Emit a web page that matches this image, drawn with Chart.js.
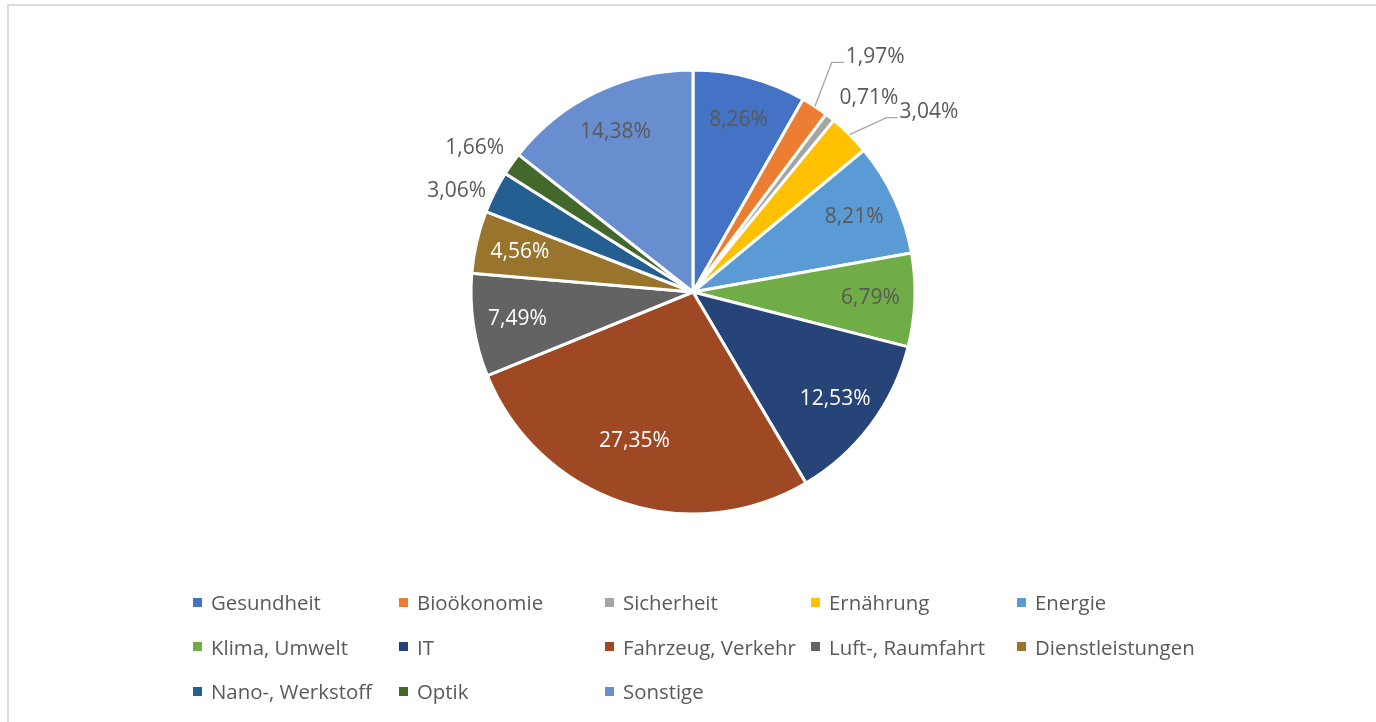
<!DOCTYPE html>
<html>
<head>
<meta charset="utf-8">
<script src="https://cdn.jsdelivr.net/npm/chart.js@4"></script>
<style>
    html, body { margin: 0; padding: 0; background: #fff; overflow: hidden; }
    #contenedor { position: relative; width: 1376px; height: 722px; }
    #marco { position: absolute; left: 7px; top: 4px; width: 1400px; height: 800px; border: 2px solid #dcdcdc; box-sizing: border-box; }
    #graficaTarta { position: absolute; left: 0; top: 0; }
    #leyenda { position: absolute; left: 193px; top: 580px; display: grid; grid-template-columns: repeat(5, 206px); grid-auto-rows: 44.5px; font-family: "Open Sans", sans-serif; font-size: 20.4px; color: #595959; }
    #leyenda .item { display: flex; align-items: center; white-space: nowrap; }
    #leyenda .marca { width: 9px; height: 9px; margin-right: 9px; flex: none; }
</style>
</head>
<body>
<div id="contenedor">
    <div id="marco"></div>
    <canvas id="graficaTarta" width="1376" height="722"></canvas>
    <div id="leyenda"></div>
</div>
<script>
const categorias = ['Gesundheit', 'Bioökonomie', 'Sicherheit', 'Ernährung', 'Energie',
    'Klima, Umwelt', 'IT', 'Fahrzeug, Verkehr', 'Luft-, Raumfahrt', 'Dienstleistungen',
    'Nano-, Werkstoff', 'Optik', 'Sonstige'];
const valores = [8.26, 1.97, 0.71, 3.04, 8.21, 6.79, 12.53, 27.35, 7.49, 4.56, 3.06, 1.66, 14.38];
const colores = ['#4472C4', '#ED7D31', '#A5A5A5', '#FFC000', '#5B9BD5', '#70AD47', '#264478',
    '#9E4824', '#636363', '#98742D', '#255E91', '#43682B', '#698ED0'];

// etiquetas que van fuera de la tarta (desplazamiento desde el borde del sector)
const fuera = {
    1: { dx: 31, dy: -49, codo: [17, -44] },
    2: { dx: 39, dy: -19 },
    3: { dx: 50, dy: -23, codo: [37, -17] },
    10: { dx: -38, dy: -1 },
    11: { dx: -37, dy: -16 }
};
const blancas = [6, 7, 8, 9];

function formatear(v) {
    return v.toFixed(2).replace('.', ',') + '%';
}

const pluginEtiquetas = {
    id: 'etiquetas',
    afterDatasetsDraw(chart) {
        const ctx = chart.ctx;
        const meta = chart.getDatasetMeta(0);
        ctx.save();
        ctx.font = '21px "Open Sans"';
        ctx.textBaseline = 'middle';
        meta.data.forEach((arc, i) => {
            const p = arc.getProps(['x', 'y', 'startAngle', 'endAngle', 'outerRadius'], true);
            let medio = (p.startAngle + p.endAngle) / 2;
            if (i === 7) medio += 0.05;
            const cos = Math.cos(medio), sin = Math.sin(medio);
            const texto = formatear(valores[i]);
            const f = fuera[i];
            if (!f) {
                const r = p.outerRadius * (i === 7 ? 0.72 : 0.8);
                ctx.fillStyle = blancas.includes(i) ? '#ffffff' : '#595959';
                ctx.textAlign = 'center';
                ctx.fillText(texto, p.x + cos * r, p.y + sin * r);
                return;
            }
            const bx = p.x + cos * p.outerRadius;
            const by = p.y + sin * p.outerRadius;
            ctx.fillStyle = '#595959';
            if (f.codo) {
                ctx.strokeStyle = '#a6a6a6';
                ctx.lineWidth = 1.3;
                ctx.beginPath();
                ctx.moveTo(bx, by);
                ctx.lineTo(bx + f.codo[0], by + f.codo[1]);
                ctx.lineTo(bx + f.dx - 2, by + f.codo[1]);
                ctx.stroke();
                ctx.textAlign = 'left';
            } else {
                ctx.textAlign = 'center';
            }
            ctx.fillText(texto, bx + f.dx, by + f.dy);
        });
        ctx.restore();
    }
};

function inicializarGrafica() {
    const ctx = document.getElementById('graficaTarta').getContext('2d');

    new Chart(ctx, {
        type: 'pie',
        data: {
            labels: categorias,
            datasets: [{
                data: valores,
                backgroundColor: colores,
                borderColor: '#ffffff',
                borderWidth: 3
            }]
        },
        options: {
            responsive: false,
            animation: false,
            radius: 222,
            layout: {
                padding: { left: 10, top: 0, right: 0, bottom: 138 }
            },
            plugins: {
                legend: { display: false },
                tooltip: { enabled: false }
            }
        },
        plugins: [pluginEtiquetas]
    });
}

function crearLeyenda() {
    const leyenda = document.getElementById('leyenda');
    categorias.forEach((nombre, i) => {
        const item = document.createElement('div');
        item.className = 'item';
        const marca = document.createElement('span');
        marca.className = 'marca';
        marca.style.background = colores[i];
        const texto = document.createElement('span');
        texto.textContent = nombre;
        item.appendChild(marca);
        item.appendChild(texto);
        leyenda.appendChild(item);
    });
}

crearLeyenda();
inicializarGrafica();
</script>
</body>
</html>
